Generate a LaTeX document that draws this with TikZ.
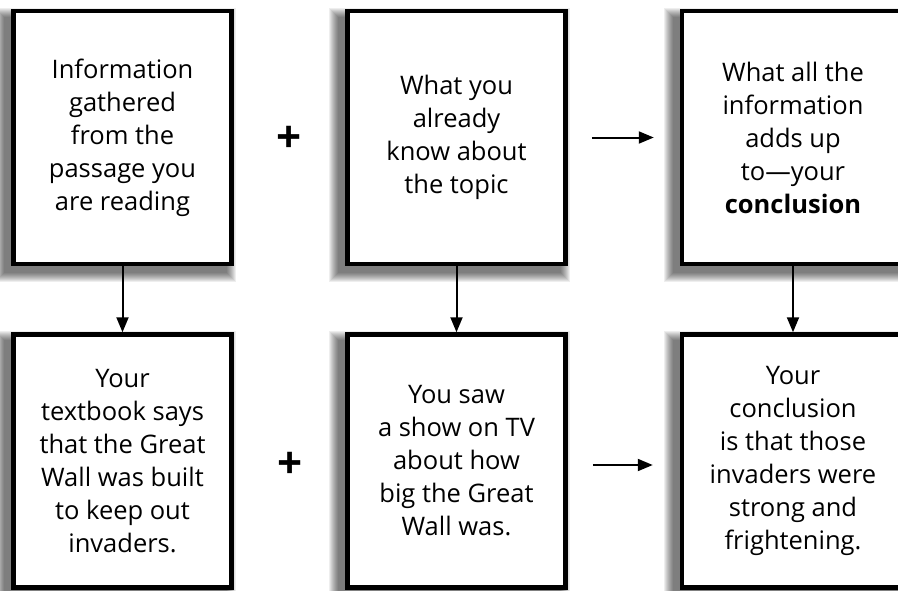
\documentclass[tikz,border=0pt]{standalone}
\usepackage{fontspec}
\setmainfont{Open Sans}
\usetikzlibrary{arrows.meta,backgrounds}
\begin{document}
\begin{tikzpicture}[x=1pt,y=-1pt,
  box/.style={draw=black, line width=4.5pt, fill=white, inner sep=0pt,
    minimum width=218pt, minimum height=253pt, align=center,
    font=\fontsize{25.5}{33}\selectfont},
  shadowlayer/.style={fill=black, opacity=0.065},
  arr/.style={line width=2pt, -{Triangle[length=15pt,width=12pt]}},
  plus/.style={font=\fontsize{44}{44}\selectfont\bfseries, inner sep=0pt}
]
\useasboundingbox (0,0) rectangle (898,590);
\clip (0,0) rectangle (898,590);

\node[box] (b1) at (122.5,137.5) {Information\\gathered\\from the\\passage you\\are reading};
\node[box] (b2) at (456.5,137.5) {What you\\already\\know about\\the topic};
\node[box, minimum width=222pt] (b3) at (793,137.5) {What all the\\information\\adds up\\to---your\\\textbf{conclusion}};

\node[box] (b4) at (122.5,461) {Your\\textbook says\\that the Great\\Wall was built\\to keep out\\invaders.};
\node[box] (b5) at (456.5,461) {You saw\\a show on TV\\about how\\big the Great\\Wall was.};
\node[box, minimum width=222pt] (b6) at (793,461) {Your\\conclusion\\is that those\\invaders were\\strong and\\frightening.};

\begin{scope}[on background layer]
  \fill[white] (0,0) rectangle (898,590);
  \foreach \n in {b1,b2,b3,b4,b5,b6}{
    \foreach \r in {0,1,...,9}{
      \fill[shadowlayer] ([shift={({-7-\r},{8-\r})}]\n.north west) rectangle ([shift={({-7+\r},{7+\r})}]\n.south east);
    }
  }
\end{scope}

\node[plus] (p1) at (289,139) {+};
\node[plus] (p2) at (290,465) {+};

\draw[arr] ([xshift=24pt]b2.east) -- ([xshift=-26pt]b3.west);
\draw[arr] ([xshift=25pt,yshift=-4pt]b5.east) -- ([xshift=-27pt,yshift=-4pt]b6.west);

\draw[arr] (b1.south) -- (b4.north);
\draw[arr] (b2.south) -- (b5.north);
\draw[arr] (b3.south) -- (b6.north);
\end{tikzpicture}
\end{document}
